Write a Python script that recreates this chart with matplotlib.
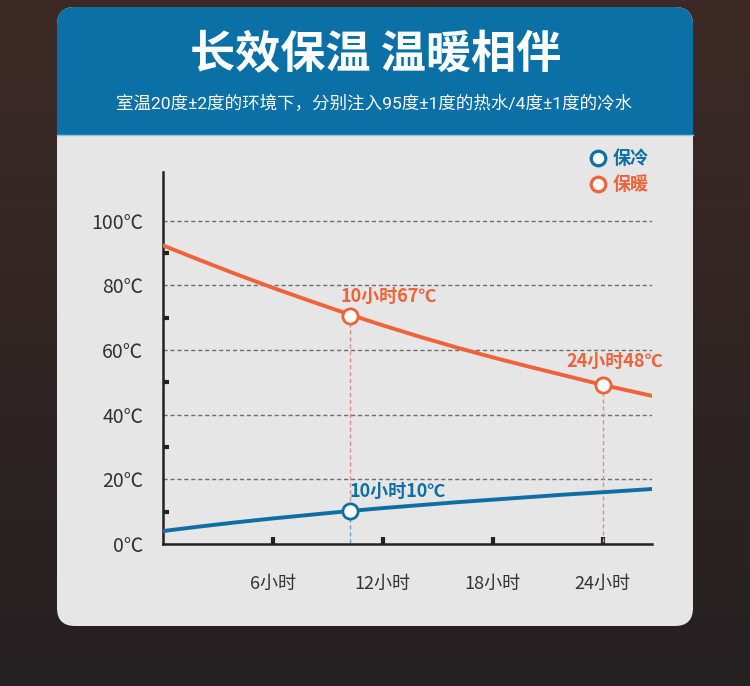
import numpy as np
import matplotlib
matplotlib.use("Agg")
from matplotlib import pyplot as plt
from matplotlib.patches import FancyBboxPatch, Rectangle

plt.rcParams['font.family'] = ['Noto Sans CJK SC', 'DejaVu Sans']

# data
hours = [0, 2, 4, 6, 8, 10, 12, 14, 16, 18, 20, 22, 24, 26.7]
warm = [92.3, 87.8, 83.4, 79.2, 75.2, 71.3, 67.6, 64.1, 60.8, 57.7, 54.8,
        52.0, 49.2, 45.8]
cold = [4.0, 5.4, 6.7, 7.9, 9.0, 10.1, 11.1, 12.0, 12.9, 13.7, 14.5, 15.3,
        16.0, 17.0]

y_ticks = [0, 20, 40, 60, 80, 100]
y_labels = ['0℃', '20℃', '40℃', '60℃', '80℃', '100℃']
x_ticks = [6, 12, 18, 24]
x_labels = ['6小时', '12小时', '18小时', '24小时']

warm_mark_x = [10.2, 24]
warm_mark_y = [70.6, 49.2]
warm_mark_lab = ['10小时67℃', '24小时48℃']
cold_mark_x = [10.2]
cold_mark_y = [10.3]
cold_mark_lab = ['10小时10℃']

title = '长效保温 温暖相伴'
subtitle = '室温20度±2度的环境下，分别注入95度±1度的热水/4度±1度的冷水'

ORANGE = '#f0623a'
BLUE = '#0e6fa3'
W, H = 750, 686

fig = plt.figure(figsize=(7.5, 6.86), dpi=100)

# background + card, drawn in pixel coords
bg = fig.add_axes([0, 0, 1, 1])
bg.set_xlim(0, W)
bg.set_ylim(H, 0)
bg.axis('off')
grad = np.linspace(0, 1, 256).reshape(-1, 1)
top = np.array([0x3d, 0x2a, 0x26]) / 255
bot = np.array([0x25, 0x20, 0x22]) / 255
img = top + (bot - top) * grad[:, :, None]
bg.imshow(img, extent=[0, W, H, 0], aspect='auto')

bg.add_patch(FancyBboxPatch((57 + 18, 7 + 18), 636 - 36, 619 - 36,
                            boxstyle='round,pad=18', fc='#e6e6e6', ec='none'))
bg.add_patch(FancyBboxPatch((57 + 18, 7 + 18), 636 - 36, 150 - 36,
                            boxstyle='round,pad=18', fc='#0a70a6', ec='none'))
bg.add_patch(Rectangle((57, 135), 636, 60, fc='#e6e6e6', ec='none'))
bg.plot([57, 693], [135, 135], color='#8fc3df', lw=1)

bg.text(376, 55, title, color='white', fontsize=32.5, fontweight='heavy',
        ha='center', va='center')
bg.text(374, 103, subtitle, color='white', fontsize=12.6,
        family=['Roboto', 'Noto Sans CJK SC'], ha='center', va='center')

# legend
bg.plot(598, 158, 'o', ms=10.5, mfc='white', mec=BLUE, mew=2.3)
bg.text(613, 158, '保冷', color=BLUE, fontsize=13, fontweight='bold',
        ha='left', va='center')
bg.plot(598, 184, 'o', ms=10.5, mfc='white', mec=ORANGE, mew=2.3)
bg.text(613, 184, '保暖', color=ORANGE, fontsize=13, fontweight='bold',
        ha='left', va='center')

# chart
ax = fig.add_axes([163 / W, (H - 544) / H, (652 - 163) / W, (544 - 172) / H])
ax.patch.set_alpha(0)
ax.set_xlim(0, 26.7)
ax.set_ylim(0, 115)
for s in ['top', 'right']:
    ax.spines[s].set_visible(False)
for s in ['left', 'bottom']:
    ax.spines[s].set_color('#222222')
    ax.spines[s].set_linewidth(1.8)

for v in y_ticks[1:]:
    ax.axhline(v, color='#6e6e6e', lw=1, ls=(0, (3, 2)), zorder=1)

ax.set_yticks(y_ticks)
ax.set_yticklabels(y_labels, fontsize=14, color='#333333')
ax.set_yticks([10, 30, 50, 70, 90], minor=True)
ax.tick_params(axis='y', which='major', length=0, pad=14)
ax.tick_params(axis='y', which='minor', direction='in', length=4, width=3,
               color='#222222')
ax.set_xticks(x_ticks)
ax.set_xticklabels(x_labels, fontsize=13, color='#333333')
ax.tick_params(axis='x', direction='in', length=5, width=3, color='#222222',
               pad=22)

ax.plot(hours, warm, color=ORANGE, lw=2.8, zorder=3)
ax.plot(hours, cold, color=BLUE, lw=2.8, zorder=3)

# dotted guides from the markers down to the axis
ax.plot([warm_mark_x[0]] * 2, [warm_mark_y[0], cold_mark_y[0]],
        color='#f08a80', lw=1, ls=(0, (3, 2)), zorder=2)
ax.plot([cold_mark_x[0]] * 2, [cold_mark_y[0], 0], color='#6a9fc8', lw=1,
        ls=(0, (3, 2)), zorder=2)
ax.plot([warm_mark_x[1]] * 2, [warm_mark_y[1], 0], color='#f08a80', lw=1,
        ls=(0, (3, 2)), zorder=2)

warm_offsets = [(-7, 13.5, 'left'), (8.5, 17, 'center')]
for x, y, lab, (dx, dy, ha) in zip(warm_mark_x, warm_mark_y, warm_mark_lab,
                                   warm_offsets):
    ax.plot(x, y, 'o', ms=11, mfc='white', mec=ORANGE, mew=2, zorder=4)
    ax.annotate(lab, (x, y), xytext=(dx, dy), textcoords='offset points',
                ha=ha, va='center', color=ORANGE, fontsize=13,
                fontweight='bold')
for x, y, lab in zip(cold_mark_x, cold_mark_y, cold_mark_lab):
    ax.plot(x, y, 'o', ms=11, mfc='white', mec=BLUE, mew=2, zorder=4)
    ax.annotate(lab, (x, y), xytext=(0, 13.5), textcoords='offset points',
                ha='left', va='center', color=BLUE, fontsize=13,
                fontweight='bold')

fig.savefig('out.png', dpi=100)
